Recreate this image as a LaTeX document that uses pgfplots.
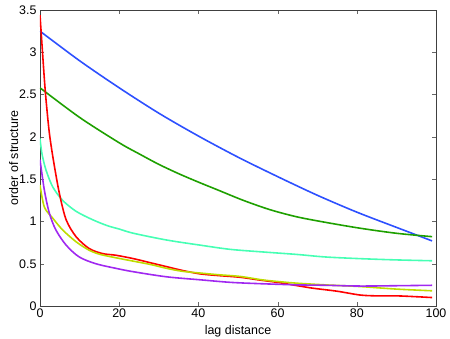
\documentclass[border=0pt]{standalone}
\usepackage{fontspec}
\setmainfont{Liberation Sans}
\usepackage{pgfplots}
\pgfplotsset{compat=1.18}
\definecolor{cBlue}{RGB}{45,80,255}
\definecolor{cGreen}{RGB}{30,160,0}
\definecolor{cCyan}{RGB}{70,255,180}
\definecolor{cRed}{RGB}{255,0,0}
\definecolor{cYel}{RGB}{190,220,0}
\definecolor{cPur}{RGB}{160,40,240}

\begin{document}
\begin{tikzpicture}[x=1bp,y=1bp]
\useasboundingbox (-40,-32) rectangle (410,306);
\begin{axis}[
    at={(0,0)}, anchor=south west,
    scale only axis, width=396bp, height=296bp,
    xmin=0, xmax=100, ymin=0, ymax=3.5,
    xtick={0,20,...,100}, ytick={0,0.5,...,3.5},
    tick align=inside, major tick length=4bp,
    axis line style={line width=0.6pt, black!75},
    tick style={black!60},
    font=\fontsize{12.5}{14}\selectfont,
    /pgf/number format/assume math mode=true,
    xticklabel style={yshift=1bp},
    xlabel={lag distance}, ylabel={order of structure},
    xlabel style={yshift=-1bp},
    ylabel style={yshift=-6bp},
    every axis plot/.append style={line width=1.6pt, smooth, tension=0.5, mark=none},
  ]
\addplot[cBlue] coordinates {(0,3.25)(10,2.90)(20,2.58)(30,2.28)(40,2.01)(50,1.76)(60,1.53)(70,1.31)(80,1.11)(90,0.93)(99,0.77)};
\addplot[cGreen] coordinates {(0,2.58)(10,2.23)(20,1.93)(25,1.80)(30,1.675)(35,1.565)(40,1.465)(45,1.37)(51.3,1.25)(58,1.14)(64.8,1.055)(72,0.99)(80.8,0.92)(90,0.86)(99,0.82)};
\addplot[cCyan] coordinates {(0,1.98)(0.5,1.80)(1.5,1.61)(3.2,1.41)(5.7,1.25)(9.1,1.12)(13.3,1.02)(17,0.95)(20,0.91)(23.6,0.86)(32,0.78)(40.4,0.72)(48,0.67)(56,0.64)(64.8,0.61)(72,0.58)(80.8,0.56)(90,0.545)(99,0.535)};
\addplot[cRed] coordinates {(0,3.44)(1,2.75)(1.5,2.45)(2.35,2.05)(3.4,1.72)(4.9,1.33)(6.6,1.02)(9.1,0.82)(12.4,0.68)(15.8,0.62)(19.2,0.60)(23.6,0.56)(28,0.51)(32,0.465)(36,0.42)(40.4,0.38)(45,0.36)(50.5,0.34)(55,0.31)(60.6,0.275)(65,0.24)(69,0.21)(75,0.175)(80.8,0.13)(85,0.12)(90,0.12)(95,0.11)(99,0.10)};
\addplot[cYel] coordinates {(0,1.43)(1.1,1.17)(3.2,1.04)(5.7,0.90)(9.1,0.76)(12.4,0.66)(15.2,0.61)(19.2,0.57)(23.6,0.53)(28,0.49)(32,0.445)(36,0.41)(40.4,0.39)(45,0.37)(50.5,0.35)(56,0.31)(60,0.29)(64.8,0.27)(72,0.25)(80.8,0.23)(90,0.20)(99,0.18)};
\addplot[cPur] coordinates {(0,1.73)(1.1,1.37)(2.35,1.10)(4,0.90)(6.6,0.72)(9.9,0.58)(14.1,0.50)(19.2,0.445)(23.6,0.405)(32,0.345)(40.4,0.31)(48,0.28)(55,0.265)(64.8,0.25)(72,0.245)(80.8,0.236)(90,0.24)(99,0.245)};
\end{axis}
\end{tikzpicture}
\end{document}
